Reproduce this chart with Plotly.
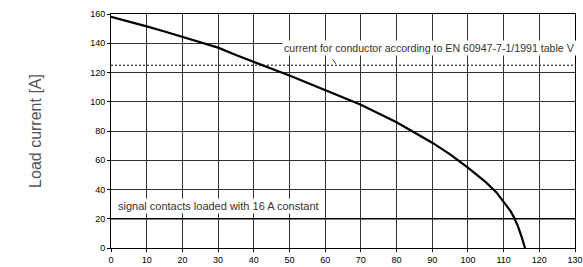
import plotly.graph_objects as go

temp_x = [0, 5, 10, 15, 20, 25, 30, 35, 40, 45, 50, 55, 60, 65, 70, 75, 80, 85, 90, 95, 100, 105, 108, 110, 112, 113, 114, 115, 116]
load_current = [158, 155, 151.5, 148, 144.5, 141, 137, 132, 127, 122.5, 118, 113, 108.5, 103.5, 98, 92, 86, 79, 72, 64, 55, 45, 38, 31.5, 25, 20.5, 15, 8, 0]
limit_x = [0, 130]
limit_y = [125, 125]
signal_x = [0, 130]
signal_y = [20, 20]
x_ticks = list(range(0, 131, 10))
y_ticks = list(range(0, 161, 20))

fig = go.Figure()
fig.add_trace(go.Scatter(x=limit_x, y=limit_y, mode="lines",
                         line=dict(color="black", width=1, dash="2px,2px"), showlegend=False))
fig.add_trace(go.Scatter(x=signal_x, y=signal_y, mode="lines",
                         line=dict(color="black", width=1.3), showlegend=False))
fig.add_trace(go.Scatter(x=temp_x, y=load_current, mode="lines",
                         line=dict(color="black", width=2.2),
                         showlegend=False))

fig.add_annotation(x=48.0, y=137, xref="x", yref="y", xanchor="left", yanchor="middle",
                   text="current for conductor according to EN 60947-7-1/1991 table V",
                   showarrow=False, bgcolor="white", borderpad=1,
                   font=dict(family="Liberation Sans, Arial", size=10.6, color="#333333"))
fig.add_annotation(x=63, y=126, ax=61.8, ay=130, xref="x", yref="y", axref="x", ayref="y",
                   text="", showarrow=True, arrowhead=0, arrowwidth=1, arrowcolor="#333333")
fig.add_annotation(x=1.5, y=28.5, xref="x", yref="y", xanchor="left", yanchor="middle",
                   text="signal contacts loaded with 16 A constant",
                   showarrow=False, bgcolor="white", borderpad=1,
                   font=dict(family="Liberation Sans, Arial", size=11, color="#333333"))
fig.add_annotation(x=-0.164, y=0.5, xref="paper", yref="paper", textangle=-90,
                   xanchor="center", yanchor="middle",
                   text="Load current [A]", showarrow=False,
                   font=dict(family="Liberation Sans, Arial", size=16, color="#555555"))

tfont = dict(family="Liberation Sans Narrow, Liberation Sans", size=9, color="black")
for upd, rng, tv in ((fig.update_xaxes, [0, 130], x_ticks), (fig.update_yaxes, [0, 160], y_ticks)):
    upd(range=rng, tickmode="array", tickvals=tv, automargin=False,
        showgrid=True, gridcolor="#333333", gridwidth=1,
        showline=True, linecolor="black", linewidth=1, mirror=True,
        ticks="outside", ticklen=3, tickcolor="black", zeroline=False,
        tickfont=tfont)

fig.update_layout(width=583, height=267, margin=dict(l=111, r=8, t=14, b=19),
                  plot_bgcolor="white", paper_bgcolor="white")
fig.write_html("out.html", config={"displayModeBar": False},
               post_script="document.body.style.margin='0';document.body.style.overflow='hidden';")
